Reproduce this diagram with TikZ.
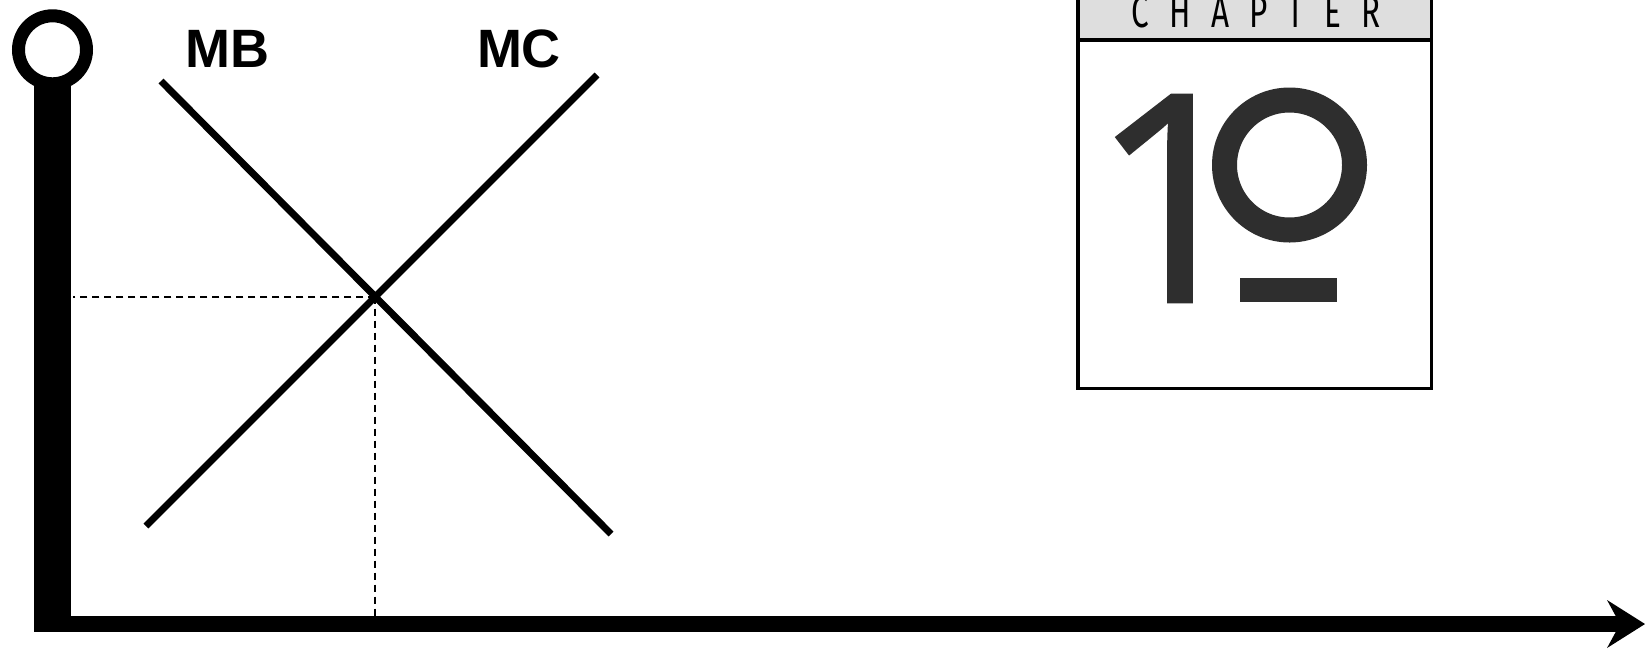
\documentclass[tikz,border=0pt]{standalone}
\usepackage{fontspec}
\setmainfont{Liberation Sans}
\newfontfamily\chapfont[FakeStretch=0.7,LetterSpace=45]{Fira Sans}
\newfontfamily\numfont[FakeBold=1]{Open Sans}
\usetikzlibrary{intersections}
\definecolor{numgray}{HTML}{2E2E2E}
\definecolor{headgray}{HTML}{DEDEDE}
\begin{document}
\begin{tikzpicture}[x=1pt,y=-1pt,
  curve/.style={line width=7pt},
  guide/.style={line width=1.6pt, dash pattern=on 7pt off 5pt},
  lbl/.style={font=\bfseries\fontsize{54}{54}\selectfont, inner sep=0pt, anchor=base},
  axisline/.style={line width=16pt},
]
\useasboundingbox (0,0) rectangle (1645,649);
% chapter box
\fill[headgray] (1078,-5) rectangle (1431.5,39);
\fill[white] (1078,39) rectangle (1431.5,388.5);
\begin{scope}
\clip (1078,0) rectangle (1431.5,37);
\node[font=\chapfont\fontsize{45}{45}\selectfont, anchor=base, inner sep=0pt] (chap) at (1256,27) {CHAPTER};
\end{scope}
\draw[line width=4pt] (1078,39.5) -- (1431.5,39.5);
\draw[line width=3.5pt] (1078,-5) rectangle (1431.5,388.5);
\node[font=\numfont\fontsize{290}{290}\selectfont, text=numgray, inner sep=0pt, anchor=base west] (one) at (1090,302) {1};
\draw[numgray, line width=25pt] (1289.5,165) circle[radius=65pt];
\fill[numgray] (1240,278) rectangle (1337,302);
% axes
\node[circle, draw, line width=13pt, minimum size=68pt, inner sep=0pt] (knob) at (52.5,49.8) {};
\coordinate (corner) at (52.5,632);
\coordinate (xstart) at (34,624);
\coordinate (xend) at (1645,624);
\coordinate (xnotch) at (1620,624);
\draw[line width=37pt] ([yshift=8pt]knob.south) -- (corner);
\draw[axisline] (xstart) -- (xnotch);
\fill (xend) -- (1607,600) -- (xnotch) -- (1607,648) -- cycle;
% curves
\coordinate (mb1) at (161,81);
\coordinate (mb2) at (611,534);
\coordinate (mc1) at (146,526);
\coordinate (mc2) at (597,75);
\draw[curve, name path=mb] (mb1) -- (mb2);
\draw[curve, name path=mc] (mc1) -- (mc2);
\path[name intersections={of=mb and mc, by=eq}];
\coordinate (qy) at (73,0);
\coordinate (qx) at (0,616);
\draw[guide] (eq) -- (eq -| qy);
\draw[guide] (eq) -- (eq |- qx);
\node[lbl] (mblbl) at (227.5,67) {MB};
\node[lbl] (mclbl) at (519,67) {MC};
\end{tikzpicture}
\end{document}
